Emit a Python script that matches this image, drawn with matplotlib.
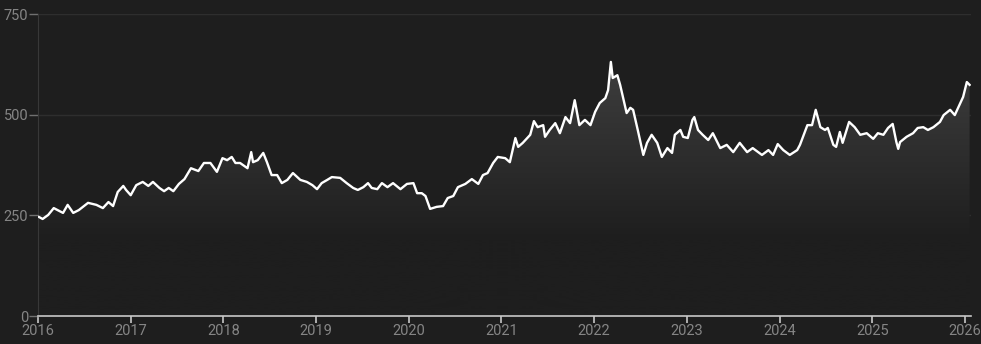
import matplotlib
matplotlib.use("Agg")
import matplotlib.pyplot as plt
import numpy as np
from matplotlib.colors import LinearSegmentedColormap

# decimal years and index values
years = [
    2016.01, 2016.05, 2016.11, 2016.17, 2016.27, 2016.32, 2016.38, 2016.44, 2016.54, 2016.63,
    2016.70, 2016.76, 2016.81, 2016.86, 2016.92, 2016.95, 2017.00, 2017.06, 2017.13, 2017.19,
    2017.24, 2017.31, 2017.36, 2017.41, 2017.46, 2017.52, 2017.58, 2017.65, 2017.73, 2017.79,
    2017.80, 2017.86, 2017.93, 2017.99, 2018.04, 2018.09, 2018.13, 2018.18, 2018.26, 2018.30,
    2018.32, 2018.37, 2018.43, 2018.47, 2018.52, 2018.58, 2018.63, 2018.69, 2018.75, 2018.83,
    2018.90, 2018.96, 2019.01, 2019.06, 2019.12, 2019.17, 2019.26, 2019.33, 2019.40, 2019.45,
    2019.51, 2019.56, 2019.60, 2019.66, 2019.71, 2019.77, 2019.83, 2019.91, 2019.98, 2020.05,
    2020.09, 2020.14, 2020.18, 2020.23, 2020.30, 2020.37, 2020.42, 2020.48, 2020.53, 2020.61,
    2020.68, 2020.75, 2020.80, 2020.85, 2020.91, 2020.96, 2021.04, 2021.09, 2021.15, 2021.18,
    2021.23, 2021.31, 2021.35, 2021.39, 2021.45, 2021.47, 2021.52, 2021.58, 2021.63, 2021.69,
    2021.74, 2021.79, 2021.84, 2021.90, 2021.96, 2022.01, 2022.06, 2022.12, 2022.15, 2022.18,
    2022.20, 2022.25, 2022.28, 2022.35, 2022.39, 2022.42, 2022.47, 2022.53, 2022.57, 2022.62,
    2022.68, 2022.73, 2022.79, 2022.84, 2022.87, 2022.93, 2022.96, 2023.01, 2023.06, 2023.08,
    2023.12, 2023.17, 2023.23, 2023.28, 2023.36, 2023.43, 2023.50, 2023.57, 2023.65, 2023.71,
    2023.81, 2023.88, 2023.93, 2023.98, 2024.04, 2024.11, 2024.19, 2024.22, 2024.30, 2024.35,
    2024.39, 2024.44, 2024.49, 2024.52, 2024.58, 2024.61, 2024.65, 2024.68, 2024.75, 2024.81,
    2024.87, 2024.94, 2025.01, 2025.06, 2025.12, 2025.17, 2025.22, 2025.26, 2025.28, 2025.30,
    2025.37, 2025.44, 2025.49, 2025.55, 2025.60, 2025.66, 2025.73, 2025.77, 2025.84, 2025.89,
    2025.94, 2025.98, 2026.02, 2026.05,
]
values = [
    246, 241, 251, 268, 256, 276, 256, 263, 281, 276,
    268, 283, 273, 308, 323, 313, 300, 325, 333, 323,
    333, 318, 310, 318, 310, 328, 340, 367, 360, 380,
    380, 380, 358, 392, 387, 395, 380, 380, 367, 407,
    382, 387, 405, 382, 350, 350, 330, 338, 355, 338,
    333, 325, 315, 330, 338, 345, 343, 330, 318, 313,
    320, 330, 318, 315, 330, 320, 330, 315, 328, 330,
    305, 305, 298, 266, 271, 273, 293, 298, 320, 328,
    340, 328, 350, 355, 380, 395, 392, 382, 442, 420,
    430, 450, 484, 469, 474, 445, 462, 479, 454, 494,
    479, 536, 474, 487, 474, 507, 529, 541, 561, 631,
    591, 598, 574, 504, 517, 512, 462, 400, 430, 450,
    430, 395, 417, 405, 450, 462, 445, 442, 487, 494,
    462, 450, 437, 454, 417, 425, 407, 430, 407, 417,
    400, 412, 400, 427, 412, 400, 412, 425, 474, 474,
    512, 469, 462, 467, 425, 420, 457, 430, 482, 469,
    450, 454, 440, 454, 450, 467, 477, 432, 415, 432,
    445, 454, 467, 469, 462, 469, 482, 499, 512, 499,
    524, 544, 581, 574,
]
year_ticks = list(range(2016, 2027))
value_ticks = [0, 250, 500, 750]

BG = "#1e1e1e"
TEXT = "#858585"

fig = plt.figure(figsize=(9.81, 3.44), dpi=100, facecolor=BG)
ax = fig.add_axes([38 / 981, 28 / 344, 933 / 981, 302 / 344], facecolor=BG)

x = np.array(years)
y = np.array(values)

# gradient fill under the line, fading out near the 250 level
fill = ax.fill_between(x, y, 0, color="none", lw=0)
cmap = LinearSegmentedColormap.from_list(
    "fade", [(0.0, BG), (0.3, BG), (1.0, "#3e3e3e")]
)
grad = np.linspace(0, 1, 256).reshape(-1, 1)
img = ax.imshow(grad, cmap=cmap, aspect="auto", origin="lower",
                extent=[x.min(), x.max(), 0, y.max()], zorder=1)
img.set_clip_path(fill.get_paths()[0], transform=ax.transData)

ax.plot(x, y, color="white", lw=1.7, zorder=3, solid_joinstyle="round")

ax.set_xlim(2016, 2026.065)
ax.set_ylim(0, 750)

for v in value_ticks[1:]:
    ax.axhline(v, color="#2e2e2e", lw=1, zorder=0)

for s in ["top", "right"]:
    ax.spines[s].set_visible(False)
ax.spines["left"].set_color("#383838")
ax.spines["bottom"].set_color("#c8c8c8")
ax.spines["bottom"].set_linewidth(1.2)

ax.set_yticks(value_ticks)
ax.set_xticks(year_ticks)
ax.set_xticklabels([str(t) for t in year_ticks])
ax.tick_params(axis="y", length=6.5, width=1, color="#707070", labelcolor=TEXT,
               labelsize=10.5, pad=0.5)
ax.tick_params(axis="x", length=5, width=1.2, color="#c8c8c8", labelcolor=TEXT,
               labelsize=10.5, pad=1)
for lab in ax.get_xticklabels() + ax.get_yticklabels():
    lab.set_family(["Roboto", "DejaVu Sans"])

fig.savefig("out.png", dpi=100, facecolor=BG)
